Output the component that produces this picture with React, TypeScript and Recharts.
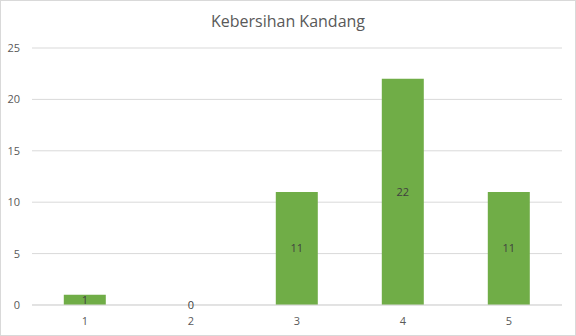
import React from "react";
import { BarChart, Bar, XAxis, YAxis, CartesianGrid, LabelList } from "recharts";

const categories = ["1", "2", "3", "4", "5"];
const values = [1, 0, 11, 22, 11];
const yTicks = [0, 5, 10, 15, 20, 25];
const title = "Kebersihan Kandang";

const data = categories.map((c, i) => ({ name: c, value: values[i] }));

const FONT = "'Open Sans', 'Liberation Sans', sans-serif";

const renderLabel = (props: any) => {
  const { x, y, width, height, value } = props;
  const cx = Number(x) + Number(width) / 2;
  const cy = Number(y) + Number(height) / 2;
  return (
    <text
      x={cx}
      y={cy}
      dy="0.355em"
      textAnchor="middle"
      fill="#404040"
      fontSize={11}
      fontFamily={FONT}
    >
      {value}
    </text>
  );
};

export default function App() {
  return (
    <div
      style={{
        position: "absolute",
        left: 0,
        top: 0,
        width: 576,
        height: 336,
        background: "#fff",
        fontFamily: FONT,
      }}
    >
      <div
        style={{
          position: "absolute",
          left: 0,
          top: 0,
          width: 574,
          height: 334,
          border: "1px solid #d9d9d9",
          pointerEvents: "none",
        }}
      />
      <div
        style={{
          position: "absolute",
          left: 0,
          top: 10,
          width: 576,
          textAlign: "center",
          fontSize: 16,
          color: "#595959",
          fontFamily: FONT,
        }}
      >
        {title}
      </div>
      <BarChart
        width={576}
        height={336}
        data={data}
        margin={{ top: 48, right: 14, bottom: 0, left: 0 }}
        barCategoryGap="30%"
      >
        <CartesianGrid vertical={false} stroke="#d9d9d9" />
        <XAxis
          dataKey="name"
          height={31}
          axisLine={{ stroke: "#d9d9d9" }}
          tickLine={false}
          tickSize={0}
          tickMargin={12}
          tick={{ fill: "#595959", fontSize: 11, fontFamily: FONT }}
        />
        <YAxis
          width={32}
          domain={[0, 25]}
          ticks={yTicks}
          axisLine={false}
          tickLine={false}
          tickSize={0}
          tickMargin={12}
          tick={{ fill: "#595959", fontSize: 11, fontFamily: FONT }}
        />
        <Bar
          dataKey="value"
          fill="#70AD47"
          minPointSize={0.01}
          isAnimationActive={false}
        >
          <LabelList dataKey="value" content={renderLabel} />
        </Bar>
      </BarChart>
    </div>
  );
}
